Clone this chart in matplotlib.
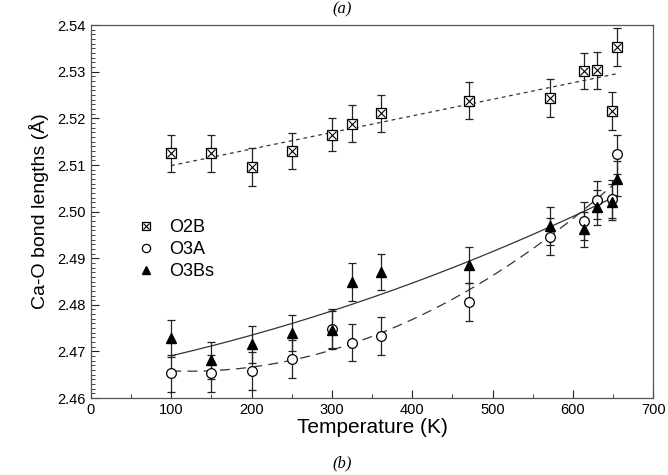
import numpy as np
import matplotlib.pyplot as plt
from matplotlib.ticker import MultipleLocator, FormatStrFormatter
from matplotlib.legend_handler import HandlerTuple

plt.rcParams['font.family'] = ['Liberation Sans', 'DejaVu Sans']

# temperatures (K)
T = [100, 150, 200, 250, 300, 325, 361, 471, 571, 614, 630, 648, 655]

# Ca-O bond lengths (A)
o2b = [2.5125, 2.5125, 2.5096, 2.5130, 2.5165, 2.5189, 2.5211, 2.5238, 2.5244, 2.5302, 2.5303, 2.5216, 2.5353]
o2b_err = [0.004, 0.004, 0.004, 0.0039, 0.0036, 0.004, 0.004, 0.004, 0.004, 0.0039, 0.004, 0.004, 0.004]

o3a = [2.4653, 2.4653, 2.4658, 2.4683, 2.4749, 2.4719, 2.4733, 2.4806, 2.4946, 2.4980, 2.5025, 2.5027, 2.5123]
o3a_err = [0.0039, 0.0039, 0.004, 0.0041, 0.0042, 0.004, 0.004, 0.004, 0.004, 0.004, 0.004, 0.004, 0.0042]

o3bs = [2.4728, 2.4681, 2.4715, 2.4739, 2.4746, 2.4849, 2.4871, 2.4885, 2.4969, 2.4962, 2.5009, 2.5021, 2.5071]
o3bs_err = [0.0039, 0.004, 0.0039, 0.0039, 0.0041, 0.004, 0.0039, 0.0039, 0.004, 0.0038, 0.0038, 0.0039, 0.0038]

fig = plt.figure(figsize=(6.68, 4.75), dpi=100)
ax = fig.add_axes([0.136, 0.162, 0.842, 0.785])

ecol = '#222222'
ebkw = dict(fmt='none', ecolor=ecol, elinewidth=0.9, capsize=3.2, capthick=0.9, zorder=2)

ax.errorbar(T, o2b, yerr=o2b_err, **ebkw)
ax.errorbar(T, o3a, yerr=o3a_err, **ebkw)
ax.errorbar(T, o3bs, yerr=o3bs_err, **ebkw)

# fitted curves
tt = np.linspace(min(T), max(T), 200)
p1 = np.polyfit(T, o2b, 1)
ax.plot(tt, np.polyval(p1, tt), color='#333333', lw=0.9, ls=(0, (3, 3)), zorder=1)
p2 = np.polyfit(T, o3a, 2)
ax.plot(tt, np.polyval(p2, tt), color='#333333', lw=0.9, ls=(0, (8, 5)), zorder=1)
p3 = np.polyfit(T, o3bs, 2)
ax.plot(tt, np.polyval(p3, tt), color='#333333', lw=0.9, ls='-', zorder=1)

# markers
sq, = ax.plot(T, o2b, 's', ms=7, mfc='white', mec='black', mew=0.9, ls='none', zorder=3)
sx, = ax.plot(T, o2b, 'x', ms=5.5, mec='black', mew=0.8, ls='none', zorder=4)
ci, = ax.plot(T, o3a, 'o', ms=7, mfc='white', mec='black', mew=0.9, ls='none', zorder=3)
tr, = ax.plot(T, o3bs, '^', ms=7.5, mfc='black', mec='black', ls='none', zorder=3)

ax.legend([(sq, sx), ci, tr], ['O2B', 'O3A', 'O3Bs'],
          handler_map={tuple: HandlerTuple(ndivide=1)},
          loc='upper left', bbox_to_anchor=(0.07, 0.5), frameon=False,
          fontsize=13, handlelength=1.0, handletextpad=0.75, labelspacing=0.28,
          borderaxespad=0, markerscale=0.85)

ax.set_xlim(0, 700)
ax.set_ylim(2.46, 2.54)
ax.xaxis.set_major_locator(MultipleLocator(100))
ax.xaxis.set_minor_locator(MultipleLocator(50))
ax.yaxis.set_major_locator(MultipleLocator(0.01))
ax.yaxis.set_minor_locator(MultipleLocator(0.001))
ax.yaxis.set_major_formatter(FormatStrFormatter('%.2f'))
ax.tick_params(which='both', direction='in', top=False, right=False, labelsize=10.5, color='#222222')
ax.tick_params(which='major', length=6, width=0.8)
ax.tick_params(which='minor', length=3, width=0.6)
for s in ax.spines.values():
    s.set_color('#555555')
    s.set_linewidth(0.9)

ax.set_xlabel('Temperature (K)', fontsize=15, labelpad=1)
ax.set_ylabel('Ca-O bond lengths (Å)', fontsize=14, labelpad=6)

fig.text(0.512, 1 - 13 / 475, '(a)', ha='center', va='baseline', fontsize=12,
         family='Liberation Serif', style='italic')
fig.text(0.512, 1 - 467 / 475, '(b)', ha='center', va='baseline', fontsize=12,
         family='Liberation Serif', style='italic')

fig.savefig('out.png', dpi=100)
